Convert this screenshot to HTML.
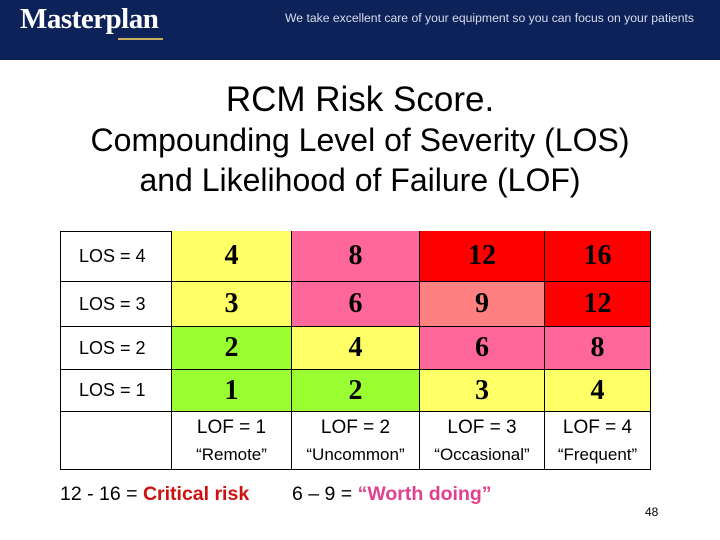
<!DOCTYPE html>
<html><head><meta charset="utf-8"><style>
body{margin:0;width:720px;height:540px;background:#fff;position:relative;overflow:hidden;font-family:"Liberation Sans",sans-serif}
.abs{position:absolute}
.hdr{left:0;top:0;width:720px;height:60px;background:#0d2259}
.t{width:720px;text-align:center;color:#000;left:0;white-space:nowrap}
.cell{position:absolute;box-sizing:border-box;border-right:1px solid #000;border-bottom:1px solid #000;display:flex;align-items:center;justify-content:center}
.num{font-family:"Liberation Serif",serif;font-weight:bold;font-size:28px}
.lab{justify-content:flex-start;padding-left:19px;font-size:18px}
</style></head><body>
<div class="abs hdr">
 <div class="abs" style="left:20px;top:3px;color:#fff;font-family:'Liberation Serif',serif;font-weight:bold;font-size:29px;letter-spacing:-0.5px">Masterplan</div>
 <div class="abs" style="left:118px;top:38px;width:45px;height:2px;background:#c8b060"></div>
 <div class="abs" style="left:285px;top:11px;color:#d8dcea;font-size:12.2px;white-space:nowrap">We take excellent care of your equipment so you can focus on your patients</div>
</div>
<div class="abs t" style="top:80px;font-size:35px">RCM Risk Score.</div>
<div class="abs t" style="top:122px;font-size:32px">Compounding Level of Severity (LOS)</div>
<div class="abs t" style="top:162px;font-size:32px">and Likelihood of Failure (LOF)</div>
<div id="grid" class="abs" style="left:60px;top:231px;width:591px;height:239px;border-left:1px solid #000;border-top:1px solid #000;box-sizing:border-box"></div>
<div class="abs" style="left:60px;top:483px;font-size:19.5px;white-space:nowrap">12 - 16 = <b style="color:#cc1111">Critical risk</b></div>
<div class="abs" style="left:292px;top:483px;font-size:19.5px;white-space:nowrap">6 – 9 = <b style="color:#e0418f">“Worth doing”</b></div>
<div class="abs" style="left:645px;top:505px;font-size:12px">48</div>
<script>
const losLabels=["LOS = 4","LOS = 3","LOS = 2","LOS = 1"];
const lofLabels=["LOF = 1","LOF = 2","LOF = 3","LOF = 4"];
const lofNames=["“Remote”","“Uncommon”","“Occasional”","“Frequent”"];
const losValues=[4,3,2,1];
const lofValues=[1,2,3,4];
const colBounds=[0,112,232,360,485,591];
const rowBounds=[0,51,96,139,181,239];
function color(v){if(v>=12)return"#ff0000";if(v==9)return"#ff8080";if(v>=6)return"#ff6699";if(v>=3)return"#ffff66";return"#99ff33";}
const g=document.getElementById('grid');
function mk(r,c,html,cls,bg,name){
 const d=document.createElement('div');d.className='cell '+cls;
 d.style.left=(colBounds[c]-1)+'px';d.style.top=(rowBounds[r]-1)+'px';
 d.style.width=(colBounds[c+1]-colBounds[c])+'px';d.style.height=(rowBounds[r+1]-rowBounds[r])+'px';
 if(bg)d.style.background=bg;d.innerHTML=html;
 
 
 g.appendChild(d);}
losValues.forEach((s,r)=>{
 mk(r,0,losLabels[r],'lab',null,'los-label-'+s);
 lofValues.forEach((f,c)=>{const v=s*f;mk(r,c+1,v,'num',color(v),'cell-los'+s+'-lof'+f);});
});
mk(4,0,'','',null,'empty-corner');
lofValues.forEach((f,c)=>mk(4,c+1,'<div style="text-align:center;font-size:19px;line-height:27px;white-space:nowrap">'+lofLabels[c]+'<br><span style="font-size:17px">'+lofNames[c]+'</span></div>','',null,'lof-label-'+f));
</script>
</body></html>
